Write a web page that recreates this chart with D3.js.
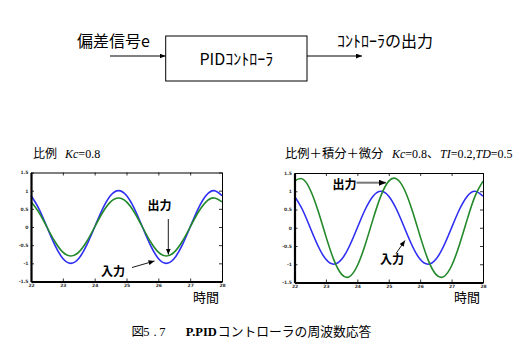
<!DOCTYPE html>
<html>
<head>
<meta charset="utf-8">
<script src="https://cdn.jsdelivr.net/npm/d3@7"></script>
<style>
  html, body { margin: 0; padding: 0; background: #fff; }
  svg { display: block; }
  .jp { font-family: "Noto Sans CJK JP", sans-serif; }
  .serif { font-family: "Liberation Serif", "Noto Sans CJK JP", serif; }
  .tick text { font-family: "DejaVu Sans", sans-serif; font-size: 4.5px; font-weight: bold; fill: #333; }
</style>
</head>
<body>
<svg id="fig" width="522" height="344"></svg>
<script>
// Sample times (s) and the waveforms at those times
const times = [22, 22.25, 22.5, 22.75, 23, 23.25, 23.5, 23.75, 24, 24.25, 24.5, 24.75,
               25, 25.25, 25.5, 25.75, 26, 26.25, 26.5, 26.75, 27, 27.25, 27.5, 27.75, 28];
// input signal e
const inputWave = [0.866, 0.5, 0, -0.5, -0.866, -1, -0.866, -0.5, 0, 0.5, 0.866, 1,
                   0.866, 0.5, 0, -0.5, -0.866, -1, -0.866, -0.5, 0, 0.5, 0.866, 1, 0.866];
// P controller output (Kc = 0.8)
const pOutput = [0.693, 0.4, 0, -0.4, -0.693, -0.8, -0.693, -0.4, 0, 0.4, 0.693, 0.8,
                 0.693, 0.4, 0, -0.4, -0.693, -0.8, -0.693, -0.4, 0, 0.4, 0.693, 0.8, 0.693];
// PID controller output (Kc = 0.8, TI = 0.2, TD = 0.5)
const pidOutput = [1.278, 1.339, 1.042, 0.465, -0.236, -0.874, -1.278, -1.339, -1.042, -0.465, 0.236, 0.874,
                   1.278, 1.339, 1.042, 0.465, -0.236, -0.874, -1.278, -1.339, -1.042, -0.465, 0.236, 0.874, 1.278];

const xTicks = [22, 23, 24, 25, 26, 27, 28];
const xTickLabels = ["22", "23", "24", "25", "26", "27", "28"];
const yTicks = [-1.5, -1, -0.5, 0, 0.5, 1, 1.5];
const yTickLabels = ["-1.5", "-1", "-0.5", "0", "0.5", "1", "1.5"];

const blue = "#2f2ff2";
const green = "#23892a";

const svg = d3.select("#fig");

// arrowhead markers
const defs = svg.append("defs");
function marker(id, w, h) {
  defs.append("marker")
    .attr("id", id).attr("viewBox", `0 0 ${w} ${h}`)
    .attr("refX", w).attr("refY", h / 2)
    .attr("markerWidth", w).attr("markerHeight", h)
    .attr("markerUnits", "userSpaceOnUse").attr("orient", "auto")
    .append("path").attr("d", `M0,0L${w},${h / 2}L0,${h}Z`).attr("fill", "#000");
}
marker("ah", 6, 5);
marker("ahBig", 7, 6);

// ---- block diagram ----
const diag = svg.append("g");
diag.append("rect").attr("x", 165.7).attr("y", 36).attr("width", 141.3).attr("height", 45)
  .attr("fill", "none").attr("stroke", "#000").attr("stroke-width", 1);
diag.append("line").attr("x1", 110).attr("y1", 56).attr("x2", 165.5).attr("y2", 56)
  .attr("stroke", "#000").attr("stroke-width", 1).attr("marker-end", "url(#ah)");
diag.append("line").attr("x1", 307).attr("y1", 56).attr("x2", 362).attr("y2", 56)
  .attr("stroke", "#000").attr("stroke-width", 1).attr("marker-end", "url(#ah)");
diag.append("text").attr("class", "jp").attr("x", 77).attr("y", 46.5)
  .attr("font-size", 16).text("偏差信号e");
diag.append("text").attr("class", "jp").attr("x", 337).attr("y", 46.5)
  .attr("font-size", 16).text("ｺﾝﾄﾛｰﾗの出力");
diag.append("text").attr("class", "jp").attr("x", 236.3).attr("y", 65)
  .attr("font-size", 16).attr("text-anchor", "middle").text("PIDｺﾝﾄﾛｰﾗ");

// ---- time-response panels ----
function panel(box, output) {
  const x = d3.scaleLinear().domain([22, 28]).range([box.left, box.right]);
  const y = d3.scaleLinear().domain([-1.5, 1.5]).range([box.bottom, box.top]);
  const g = svg.append("g");

  const line = d3.line().x((d, i) => x(times[i])).y(d => y(d)).curve(d3.curveNatural);
  g.append("path").datum(inputWave).attr("d", line)
    .attr("fill", "none").attr("stroke", blue).attr("stroke-width", 1.6);
  g.append("path").datum(output).attr("d", line)
    .attr("fill", "none").attr("stroke", green).attr("stroke-width", 1.6);

  const gx = g.append("g").attr("transform", `translate(0,${box.bottom})`)
    .call(d3.axisBottom(x).tickValues(xTicks).tickSizeInner(-3).tickSizeOuter(0).tickPadding(2.5)
      .tickFormat((d, i) => xTickLabels[i]));
  const gy = g.append("g").attr("transform", `translate(${box.left},0)`)
    .call(d3.axisLeft(y).tickValues(yTicks).tickSizeInner(-3).tickSizeOuter(0).tickPadding(2.5)
      .tickFormat((d, i) => yTickLabels[i]));
  const gt = g.append("g").attr("transform", `translate(0,${box.top})`)
    .call(d3.axisTop(x).tickValues(xTicks).tickSizeInner(-3).tickSizeOuter(0).tickFormat(""));
  const gr = g.append("g").attr("transform", `translate(${box.right},0)`)
    .call(d3.axisRight(y).tickValues(yTicks).tickSizeInner(-3).tickSizeOuter(0).tickFormat(""));
  [gx, gy].forEach(a => a.select(".domain").attr("stroke-width", 2.2));
  [gt, gr].forEach(a => a.select(".domain").attr("stroke-width", 1));
  g.selectAll(".tick line").attr("stroke-width", 0.8);

  g.append("text").attr("class", "jp").attr("x", box.right - 29).attr("y", 302)
    .attr("font-size", 13).text("時間");
  return { g, x, y };
}

const left = panel({ left: 31, right: 222, top: 172.5, bottom: 281.5 }, pOutput);
const right = panel({ left: 294.5, right: 483, top: 173, bottom: 282.5 }, pidOutput);

// titles
const t1 = svg.append("text").attr("class", "serif").attr("x", 33).attr("y", 157.5).attr("font-size", 12);
t1.append("tspan").attr("class", "jp").text("比例");
t1.append("tspan").attr("dx", 8).attr("font-style", "italic").text("Kc");
t1.append("tspan").text("=0.8");

const t2 = svg.append("text").attr("class", "serif").attr("x", 285).attr("y", 157.5).attr("font-size", 12);
t2.append("tspan").attr("class", "jp").attr("font-size", 12.3).text("比例＋積分＋微分");
t2.append("tspan").attr("dx", 8.5).attr("font-style", "italic").text("Kc");
t2.append("tspan").text("=0.8");
t2.append("tspan").attr("class", "jp").text("、");
t2.append("tspan").attr("dx", 1).attr("font-style", "italic").text("TI");
t2.append("tspan").text("=0.2,");
t2.append("tspan").attr("font-style", "italic").text("TD");
t2.append("tspan").text("=0.5");

// annotations
function label(x, y, s) {
  svg.append("text").attr("class", "jp").attr("x", x).attr("y", y)
    .attr("font-size", 12).attr("font-weight", "bold").text(s);
}
function arrow(x1, y1, x2, y2, w, color, m) {
  svg.append("line").attr("x1", x1).attr("y1", y1).attr("x2", x2).attr("y2", y2)
    .attr("stroke", color).attr("stroke-width", w).attr("marker-end", `url(#${m})`);
}
label(147.5, 210, "出力");
arrow(168.3, 219, 168.3, left.y(-0.8) - 1.5, 0.9, "#000", "ah");
label(101, 276, "入力");
arrow(132, 267.5, 154.5, 261, 0.9, "#000", "ah");

label(332.5, 188.5, "出力");
arrow(356.5, 182.7, 386, 182.7, 2, "#777", "ahBig");
label(380, 264, "入力");
arrow(396, 253.5, 405, 240.5, 0.9, "#000", "ah");

// figure caption
const cap = svg.append("text").attr("class", "serif").attr("y", 336).attr("font-size", 12.5);
cap.append("tspan").attr("class", "jp").attr("x", 131.5).text("図");
cap.append("tspan").attr("x", 143.3).text("5");
cap.append("tspan").attr("x", 153.5).text(".");
cap.append("tspan").attr("x", 159.3).text("7");
cap.append("tspan").attr("x", 185.7).attr("font-weight", "bold").text("P.PID");
cap.append("tspan").attr("class", "jp").attr("dx", 1).attr("font-size", 12.8).text("コントローラの周波数応答");
</script>
</body>
</html>
